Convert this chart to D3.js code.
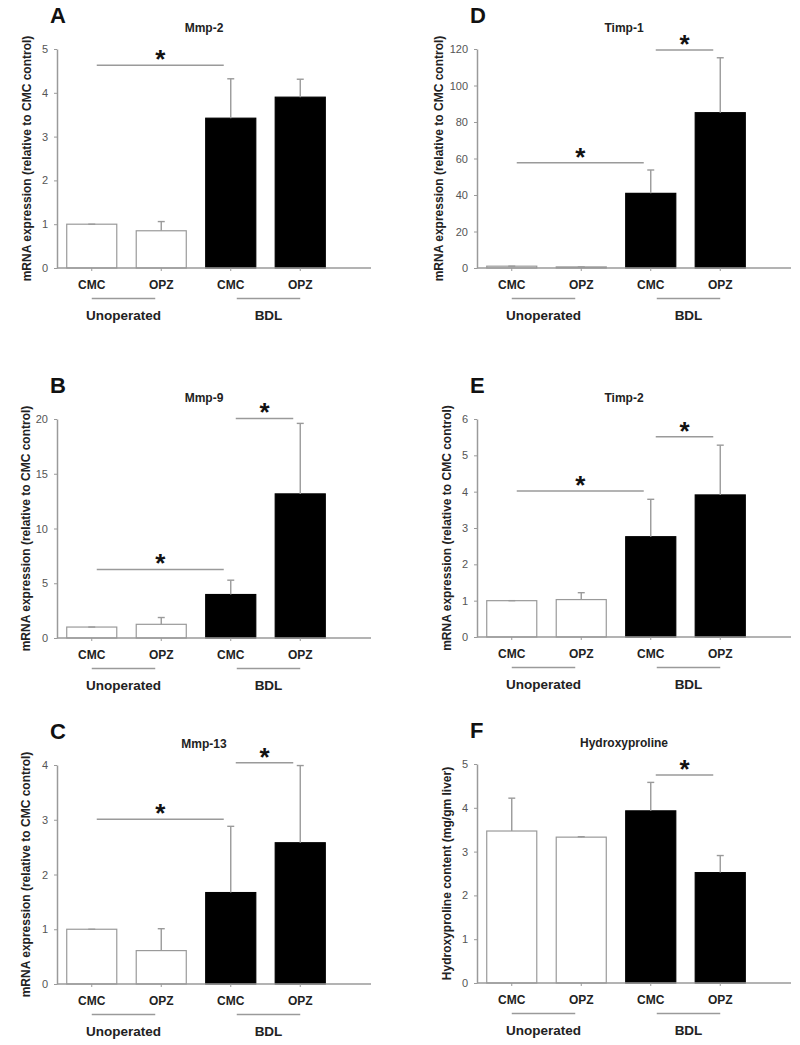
<!DOCTYPE html>
<html>
<head>
<meta charset="utf-8">
<script src="https://cdn.jsdelivr.net/npm/d3@7"></script>
<style>
  html, body { margin: 0; padding: 0; background: #fff; }
  svg { display: block; font-family: "Liberation Sans", Arial, sans-serif; }
</style>
</head>
<body>
<svg id="chart" width="800" height="1045"></svg>
<script>
// ---------- data ----------
const categoryLabels = ["CMC", "OPZ", "CMC", "OPZ"];
const groupLabels = ["Unoperated", "BDL"];
const panelLetters = ["A", "B", "C", "D", "E", "F"];
const panelTitles = ["Mmp-2", "Mmp-9", "Mmp-13", "Timp-1", "Timp-2", "Hydroxyproline"];
const yLabels = [
  "mRNA expression (relative to CMC control)",
  "mRNA expression (relative to CMC control)",
  "mRNA expression (relative to CMC control)",
  "mRNA expression (relative to CMC control)",
  "mRNA expression (relative to CMC control)",
  "Hydroxyproline content (mg/gm liver)"
];
const yMaxes = [5, 20, 4, 120, 6, 5];
const yTickSteps = [1, 5, 1, 20, 1, 1];

const mmp2Mean  = [1.0, 0.85, 3.42, 3.90];
const mmp2Err   = [0.0, 0.21, 0.90, 0.41];
const mmp9Mean  = [1.0, 1.25, 3.97, 13.16];
const mmp9Err   = [0.0, 0.62, 1.31, 6.44];
const mmp13Mean = [1.0, 0.61, 1.67, 2.58];
const mmp13Err  = [0.0, 0.40, 1.21, 1.41];
const timp1Mean = [1.0, 0.6, 40.9, 85.1];
const timp1Err  = [0.0, 0.0, 12.8, 30.1];
const timp2Mean = [1.0, 1.03, 2.76, 3.91];
const timp2Err  = [0.0, 0.19, 1.03, 1.37];
const hypMean   = [3.47, 3.33, 3.93, 2.52];
const hypErr    = [0.75, 0.01, 0.65, 0.39];

// significance bars: [fromCategory, toCategory, yValue]
const mmp2Sig  = [[0, 2, 4.63]];
const mmp9Sig  = [[0, 2, 6.26], [2, 3, 20.05]];
const mmp13Sig = [[0, 2, 3.01], [2, 3, 4.04]];
const timp1Sig = [[0, 2, 57.7], [2, 3, 119.5]];
const timp2Sig = [[0, 2, 4.02], [2, 3, 5.51]];
const hypSig   = [[2, 3, 4.75]];

const means = [mmp2Mean, mmp9Mean, mmp13Mean, timp1Mean, timp2Mean, hypMean];
const errs  = [mmp2Err, mmp9Err, mmp13Err, timp1Err, timp2Err, hypErr];
const sigs  = [mmp2Sig, mmp9Sig, mmp13Sig, timp1Sig, timp2Sig, hypSig];

// ---------- layout ----------
const layout = [
  { left: 57,  top: 49,  bottom: 268, ylabOff: -30 },
  { left: 57,  top: 419, bottom: 638, ylabOff: -31 },
  { left: 57,  top: 765, bottom: 984, ylabOff: -31 },
  { left: 477, top: 49,  bottom: 268, ylabOff: -38 },
  { left: 477, top: 419, bottom: 637, ylabOff: -30 },
  { left: 477, top: 764, bottom: 983, ylabOff: -30 }
];

const gray = "#9a9a9a";
const svg = d3.select("#chart");
svg.append("rect").attr("width", 800).attr("height", 1045).attr("fill", "#fff");

panelLetters.forEach((letter, i) => {
  const L = layout[i];
  const g = svg.append("g");
  const x = d3.scaleBand()
    .domain(d3.range(categoryLabels.length))
    .range([L.left, L.left + 278])
    .paddingInner(0.28)
    .paddingOuter(0.14);
  const y = d3.scaleLinear().domain([0, yMaxes[i]]).range([L.bottom, L.top]);
  const cx = k => x(k) + x.bandwidth() / 2;

  // letter + title
  g.append("text").attr("x", L.left - 7).attr("y", L.top - 26)
    .attr("font-size", 22).attr("font-weight", "bold").attr("fill", "#111")
    .text(letter);
  g.append("text").attr("x", L.left + 147).attr("y", L.top - 17)
    .attr("text-anchor", "middle").attr("font-size", 12).attr("font-weight", "bold")
    .attr("fill", "#222").text(panelTitles[i]);

  // y label
  g.append("text")
    .attr("transform", `translate(${L.left + L.ylabOff},${(L.top + L.bottom) / 2}) rotate(-90)`)
    .attr("text-anchor", "middle").attr("dominant-baseline", "central")
    .attr("font-size", 12).attr("font-weight", "bold").attr("fill", "#222")
    .text(yLabels[i]);

  // bars
  g.selectAll("rect.bar").data(means[i]).join("rect")
    .attr("class", "bar")
    .attr("x", (d, k) => x(k))
    .attr("width", x.bandwidth())
    .attr("y", d => y(d))
    .attr("height", d => y(0) - y(d))
    .attr("fill", (d, k) => k < 2 ? "#fff" : "#000")
    .attr("stroke", (d, k) => k < 2 ? gray : "#000")
    .attr("stroke-width", 1.2);

  // error bars
  const eb = g.selectAll("g.err").data(means[i]).join("g").attr("class", "err");
  eb.append("line")
    .attr("x1", (d, k) => cx(k)).attr("x2", (d, k) => cx(k))
    .attr("y1", d => y(d)).attr("y2", (d, k) => y(d + errs[i][k]))
    .attr("stroke", gray).attr("stroke-width", 1.4);
  eb.append("line")
    .attr("x1", (d, k) => cx(k) - 3.5).attr("x2", (d, k) => cx(k) + 3.5)
    .attr("y1", (d, k) => y(d + errs[i][k])).attr("y2", (d, k) => y(d + errs[i][k]))
    .attr("stroke", gray).attr("stroke-width", 1.4);

  // y axis
  const ticks = d3.range(0, yMaxes[i] + 1e-9, yTickSteps[i]);
  const yAxis = g.append("g").attr("transform", `translate(${L.left},0)`)
    .call(d3.axisLeft(y).tickValues(ticks).tickFormat(d3.format("d")).tickSize(3).tickPadding(6).tickSizeOuter(0));
  yAxis.select(".domain").attr("stroke", gray).attr("stroke-width", 1.5);
  yAxis.selectAll(".tick line").attr("stroke", gray);
  yAxis.selectAll(".tick text").attr("fill", "#555").attr("font-size", 11)
    .attr("font-family", "Liberation Sans, Arial, sans-serif");

  // x axis
  g.append("line").attr("x1", L.left).attr("x2", L.left + 314)
    .attr("y1", y(0)).attr("y2", y(0)).attr("stroke", gray).attr("stroke-width", 1.5);
  g.selectAll("line.xt").data(categoryLabels).join("line").attr("class", "xt")
    .attr("x1", (d, k) => cx(k)).attr("x2", (d, k) => cx(k))
    .attr("y1", y(0)).attr("y2", y(0) + 3).attr("stroke", gray);
  g.selectAll("text.xl").data(categoryLabels).join("text").attr("class", "xl")
    .attr("x", (d, k) => cx(k)).attr("y", y(0) + 21)
    .attr("text-anchor", "middle").attr("font-size", 12).attr("font-weight", "bold")
    .attr("fill", "#222").text(d => d);

  // group lines + labels
  const groupSpans = [[cx(0), cx(1) - 6], [cx(2) + 6, cx(3)]];
  groupLabels.forEach((lab, gi) => {
    const [a, b] = groupSpans[gi];
    g.append("line").attr("x1", a).attr("x2", b)
      .attr("y1", y(0) + 30.5).attr("y2", y(0) + 30.5)
      .attr("stroke", gray).attr("stroke-width", 1.5);
    g.append("text").attr("x", (a + b) / 2).attr("y", y(0) + 52)
      .attr("text-anchor", "middle").attr("font-size", 13.5).attr("font-weight", "bold")
      .attr("fill", "#222").text(lab);
  });

  // significance
  sigs[i].forEach(([a, b, v]) => {
    const x1 = cx(a) + 5, x2 = cx(b) - 7;
    g.append("line").attr("x1", x1).attr("x2", x2).attr("y1", y(v)).attr("y2", y(v))
      .attr("stroke", gray).attr("stroke-width", 1.5);
    g.append("text").attr("x", (x1 + x2) / 2).attr("y", y(v) + 3)
      .attr("text-anchor", "middle").attr("font-size", 26).attr("font-weight", "bold")
      .attr("fill", "#111").text("*");
  });
});
</script>
</body>
</html>
